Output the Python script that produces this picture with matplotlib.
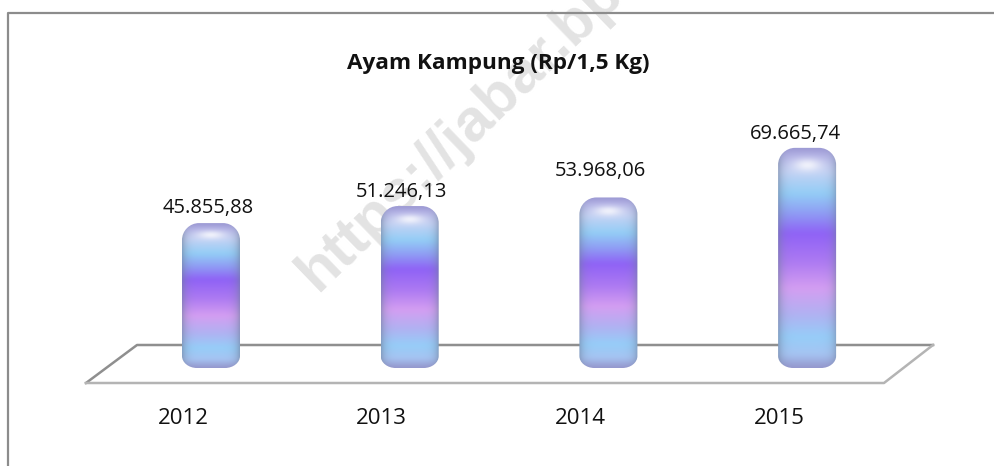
"""Ayam Kampung price chart, glossy cylinder bars on a floor plane."""
import matplotlib

matplotlib.use("Agg")
import matplotlib.pyplot as plt
import numpy as np
from matplotlib.colors import to_rgb
from matplotlib.lines import Line2D
from matplotlib.patches import PathPatch
from matplotlib.path import Path

YEARS = ["2012", "2013", "2014", "2015"]
VALUES = [45855.88, 51246.13, 53968.06, 69665.74]
TITLE = "Ayam Kampung (Rp/1,5 Kg)"
WATERMARK = "https://jabar.bps.go.id"

W, H = 994, 466
DPI = 100
X0, DX = 211, 198.7      # pixel of first bar centre, bar spacing
Y0, SCALE = 368, 0.00316  # baseline pixel, pixels per rupiah
BAR_W = 58

# label nudges in pixels relative to the bar centre / top
LABEL_DX = [-3, -8, -8, -12]
LABEL_DY = [15, 14, 26, 14]

STOPS = [
    (0.00, "#9a97d2"), (0.04, "#b4b3e6"), (0.11, "#c4d2f4"), (0.21, "#93cdf6"),
    (0.30, "#8f9cf4"), (0.39, "#8f62f6"), (0.52, "#ad7af2"), (0.64, "#d49ef2"),
    (0.76, "#b0b2f2"), (0.86, "#96cdf8"), (0.94, "#a6c4f2"), (1.00, "#9496cc"),
]

INK = "#111111"
FONT = "Open Sans"


def px(x, y):
    return x / W, 1 - y / H


def bar_image(n=300, m=80):
    frac = np.linspace(0, 1, n)
    cols = np.array([to_rgb(c) for _, c in STOPS])
    pos = [p for p, _ in STOPS]
    img = np.stack([np.interp(frac, pos, cols[:, k]) for k in range(3)], axis=1)
    # soften the colour bands
    kernel = np.hanning(19)
    kernel /= kernel.sum()
    padded = np.pad(img, ((9, 9), (0, 0)), mode="edge")
    img = np.stack([np.convolve(padded[:, k], kernel, mode="valid") for k in range(3)], axis=1)
    img = np.repeat(img[:, None, :], m, axis=1)
    u = np.linspace(-1, 1, m)
    edge = 1 - 0.55 * np.abs(u) ** 6
    grey = np.array(to_rgb("#6f7f9c"))
    img = img * edge[None, :, None] + grey * (1 - edge[None, :, None])
    # white gloss under the cap
    gloss = 0.75 * np.exp(-((frac[:, None] - 0.08) / 0.03) ** 2) * np.exp(-(u[None, :] / 0.5) ** 2)
    return img + (1 - img) * gloss[:, :, None]


def capsule(x, top, half, rx, ry, rx_b, ry_b):
    k = 0.55
    verts = [
        (x - half, ry_b), (x - half, top - ry),
        (x - half, top - ry + k * ry), (x - half + rx - k * rx, top), (x - half + rx, top),
        (x + half - rx, top),
        (x + half - rx + k * rx, top), (x + half, top - ry + k * ry), (x + half, top - ry),
        (x + half, ry_b),
        (x + half, ry_b - k * ry_b), (x + half - rx_b + k * rx_b, 0), (x + half - rx_b, 0),
        (x - half + rx_b, 0),
        (x - half + rx_b - k * rx_b, 0), (x - half, ry_b - k * ry_b), (x - half, ry_b),
        (x - half, ry_b),
    ]
    codes = [Path.MOVETO, Path.LINETO, Path.CURVE4, Path.CURVE4, Path.CURVE4, Path.LINETO,
             Path.CURVE4, Path.CURVE4, Path.CURVE4, Path.LINETO, Path.CURVE4, Path.CURVE4,
             Path.CURVE4, Path.LINETO, Path.CURVE4, Path.CURVE4, Path.CURVE4, Path.CLOSEPOLY]
    return Path(verts, codes)


fig = plt.figure(figsize=(W / DPI, H / DPI), dpi=DPI, facecolor="white")
ax = fig.add_axes([0, 0, 1, 1], zorder=2)
ax.patch.set_alpha(0)
ax.axis("off")

# watermark sits under everything
fig.text(*px(318, 292), WATERMARK, rotation=44, rotation_mode="anchor", ha="left", va="baseline",
         fontsize=43, fontweight="bold", color="#e3e3e3", family="Liberation Sans", zorder=0)

# chart frame: only top and left edges are in the crop
fig.add_artist(Line2D([8 / W, 8 / W, 1], [0, 1 - 13 / H, 1 - 13 / H], color="#8c8c8c", lw=1.6))

# floor plane
fig.add_artist(Line2D([px(86, 0)[0], px(137, 0)[0], px(933, 0)[0]],
                      [px(0, 383)[1], px(0, 345)[1], px(0, 345)[1]], color="#8f8f8f", lw=1.8))
fig.add_artist(Line2D([px(86, 0)[0], px(884, 0)[0], px(933, 0)[0]],
                      [px(0, 383)[1], px(0, 383)[1], px(0, 345)[1]], color="#b4b4b4", lw=1.8))

img = bar_image()
half = BAR_W / 2 / DX
for i, v in enumerate(VALUES):
    im = ax.imshow(img, extent=(i - half, i + half, 0, v), aspect="auto",
                   interpolation="bilinear", zorder=3)
    shape = PathPatch(capsule(i, v, half, 17 / DX, 17 / SCALE, 15 / DX, 12 / SCALE),
                      transform=ax.transData, fc="none", ec="none")
    ax.add_patch(shape)
    im.set_clip_path(shape)
    label = f"{v:,.2f}".replace(",", "#").replace(".", ",").replace("#", ".")
    ax.annotate(label, (i, v), xytext=(LABEL_DX[i], LABEL_DY[i]), textcoords="offset pixels",
                ha="center", va="center", fontsize=14.5, color=INK, family=FONT, zorder=4)
    ax.annotate(YEARS[i], (i, 0), xytext=(-28, -50), textcoords="offset pixels",
                ha="center", va="center", fontsize=16, color=INK, family=FONT, zorder=4)

ax.set_xlim(-X0 / DX, (W - X0) / DX)
ax.set_ylim(-(H - Y0) / SCALE, Y0 / SCALE)

fig.text(*px(498, 63), TITLE, ha="center", va="center", fontsize=16.2, fontweight="bold",
         color="#111111", family=FONT, zorder=5)

fig.savefig("out.png", dpi=DPI, facecolor="white")
